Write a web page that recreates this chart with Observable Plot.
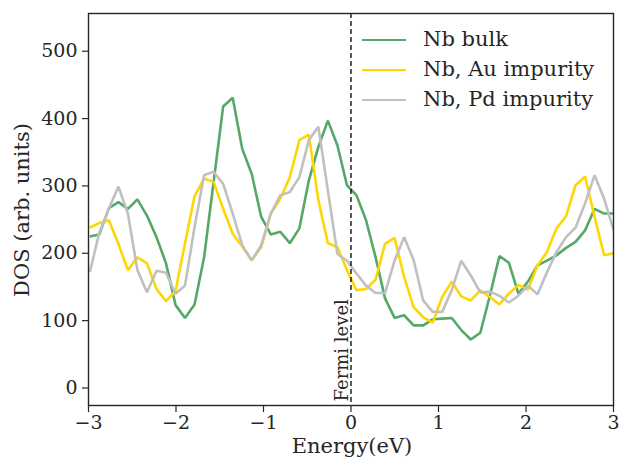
<!DOCTYPE html>
<html>
<head>
<meta charset="utf-8">
<script src="https://cdn.jsdelivr.net/npm/d3@7"></script>
<script src="https://cdn.jsdelivr.net/npm/@observablehq/plot@0.6"></script>
<style>
  body { margin: 0; background: #fff; }
  #wrap { position: relative; width: 621px; height: 460px; }
  .lg { position: absolute; left: 362px; font-family: "DejaVu Serif", serif; font-size: 21px; color: #262626; white-space: nowrap; }
  .lg span.sw { position: absolute; left: 0; width: 44px; height: 0; border-top: 2.6px solid; }
  .lg span.tx { position: absolute; left: 61px; top: -13px; line-height: 25px; }
</style>
</head>
<body>
<div id="wrap"></div>
<script>
// Energy grid (eV), shared by all three curves
const energies = [-2.985,-2.876,-2.767,-2.658,-2.550,-2.441,-2.332,-2.223,-2.114,-2.005,
  -1.897,-1.788,-1.679,-1.570,-1.461,-1.352,-1.243,-1.135,-1.026,-0.917,
  -0.808,-0.699,-0.590,-0.482,-0.373,-0.264,-0.155,-0.046,0.063,0.172,
  0.281,0.389,0.498,0.607,0.716,0.825,0.934,1.042,1.151,1.260,
  1.369,1.478,1.587,1.696,1.804,1.913,2.022,2.131,2.240,2.349,
  2.458,2.566,2.675,2.784,2.893,3.002];

const seriesNames = ["Nb bulk", "Nb, Au impurity", "Nb, Pd impurity"];
const seriesColors = ["#55a868", "#ffd700", "#c0c0c0"];

const nbBulk = [225,228,267,276,266,280,256,224,185,123,
  104,124,194,306,418,431,355,318,254,228,
  232,215,237,308,358,397,360,301,286,249,
  194,133,104,108,93,93,102,103,104,86,
  72,82,137,196,186,140,158,182,189,197,
  208,217,234,266,259,259];

const nbAu = [238,245,249,214,175,194,185,147,129,144,
  215,285,311,306,266,229,210,190,209,259,
  281,313,368,376,279,215,209,175,145,147,
  161,214,223,165,120,105,97,135,158,136,
  130,145,135,124,140,153,146,182,202,237,
  255,301,314,254,197,200];

const nbPd = [172,231,266,299,259,175,142,174,171,140,
  152,239,316,321,303,259,212,189,212,259,
  286,291,313,368,388,293,199,189,170,152,
  141,141,189,224,190,130,113,113,145,189,
  167,142,143,137,127,137,152,139,172,202,
  224,238,274,316,281,234];

const xTicks = [-3,-2,-1,0,1,2,3];
const yTicks = [0,100,200,300,400,500];
const fermi = [0];

const values = [nbBulk, nbAu, nbPd];
const rows = [];
values.forEach((arr, s) => arr.forEach((v, i) => rows.push({E: energies[i], dos: v, series: seriesNames[s]})));

const ink = "#262626";
const font = "DejaVu Serif, serif";

const chart = Plot.plot({
  width: 621,
  height: 460,
  marginLeft: 88,
  marginRight: 8,
  marginTop: 13,
  marginBottom: 55,
  style: { fontFamily: font, fontSize: "19px", color: ink, background: "white", overflow: "visible" },
  x: { domain: [-3, 3], label: null },
  y: { domain: [-26, 556], label: null },
  color: { domain: seriesNames, range: seriesColors },
  marks: [
    Plot.line(rows, { x: "E", y: "dos", z: "series", stroke: "series", strokeWidth: 2.6, clip: true, strokeLinejoin: "miter", strokeLinecap: "butt" }),
    Plot.ruleX(fermi, { stroke: "#000", strokeWidth: 1.3, strokeDasharray: "5,3" }),
    Plot.text(fermi, { x: d => d, frameAnchor: "bottom", text: () => "Fermi level", rotate: -90, textAnchor: "start", lineAnchor: "bottom", dx: -3, dy: -4, fontSize: 18, fill: ink, fontFamily: font }),
    Plot.frame({ stroke: ink, strokeWidth: 1.4 }),
    Plot.axisX(xTicks, { tickSize: 7, tickPadding: 3, tickFormat: d => (d < 0 ? "\u2212" + Math.abs(d) : String(d)), stroke: ink, strokeWidth: 1.2, fontSize: 19, label: null }),
    Plot.axisY(yTicks, { tickSize: 6, tickPadding: 5, stroke: ink, strokeWidth: 1.2, fontSize: 19, label: null })
  ]
});

const wrap = document.getElementById("wrap");
wrap.appendChild(chart);

// Axis titles
const svg = d3.select(chart);
svg.append("text")
  .attr("x", 352).attr("y", 453)
  .attr("text-anchor", "middle")
  .attr("font-family", font).attr("font-size", 21).attr("fill", ink)
  .text("Energy(eV)");
svg.append("text")
  .attr("transform", "translate(29,210) rotate(-90)")
  .attr("text-anchor", "middle")
  .attr("font-family", font).attr("font-size", 21).attr("fill", ink)
  .text("DOS (arb. units)");

// Legend (overlay)
const legendTops = [40, 70, 100];
seriesNames.forEach((name, i) => {
  const d = document.createElement("div");
  d.className = "lg";
  d.style.top = legendTops[i] + "px";
  d.innerHTML = `<span class="sw" style="border-color:${seriesColors[i]};top:-1.3px"></span><span class="tx">${name}</span>`;
  wrap.appendChild(d);
});
</script>
</body>
</html>
